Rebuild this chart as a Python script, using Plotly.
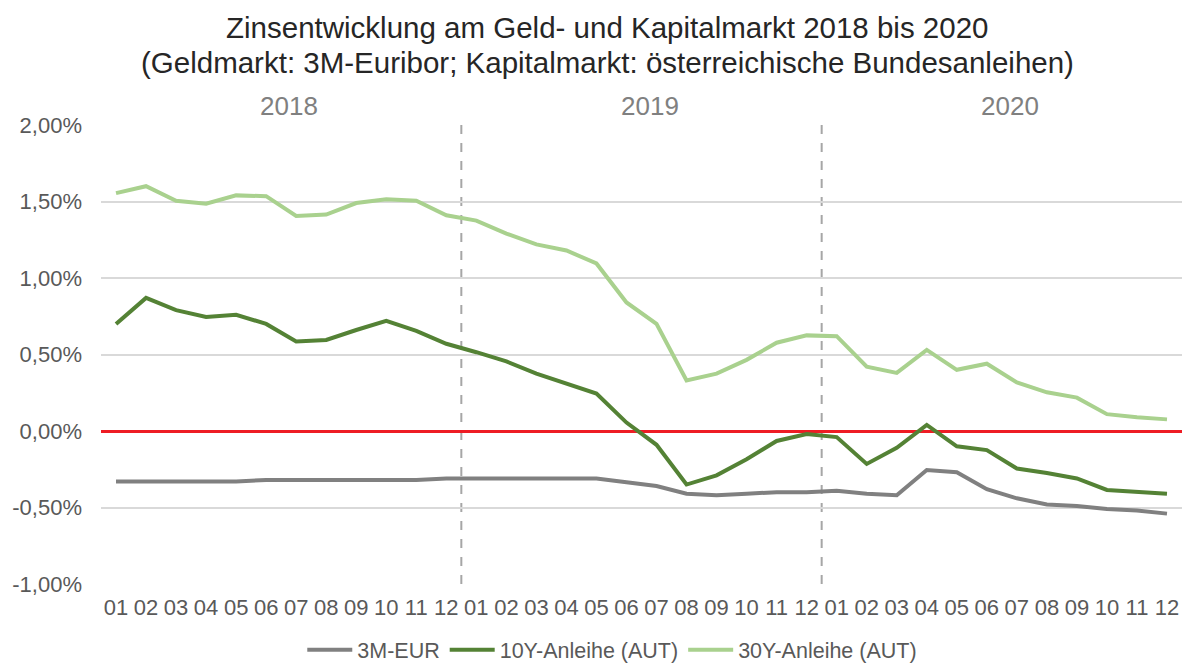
import plotly.graph_objects as go

months = ["01","02","03","04","05","06","07","08","09","10","11","12"]
years = ["2018", "2019", "2020"]
x_labels = months * 3

eur_3m = [-0.33,-0.33,-0.33,-0.33,-0.33,-0.32,-0.32,-0.32,-0.32,-0.32,-0.32,-0.31,
          -0.31,-0.31,-0.31,-0.31,-0.31,-0.335,-0.36,-0.41,-0.42,-0.41,-0.40,-0.40,
          -0.39,-0.41,-0.42,-0.255,-0.27,-0.38,-0.44,-0.48,-0.49,-0.51,-0.52,-0.54]
aut_10y = [0.70,0.87,0.79,0.745,0.76,0.70,0.585,0.595,0.66,0.72,0.655,0.57,
           0.515,0.455,0.375,0.31,0.245,0.055,-0.09,-0.35,-0.29,-0.185,-0.065,-0.02,
           -0.04,-0.215,-0.11,0.04,-0.10,-0.125,-0.245,-0.275,-0.31,-0.385,-0.40,-0.41]
aut_30y = [1.555,1.60,1.505,1.485,1.54,1.535,1.405,1.415,1.49,1.515,1.505,1.41,
           1.375,1.29,1.22,1.18,1.095,0.84,0.70,0.33,0.375,0.465,0.577,0.625,
           0.62,0.42,0.38,0.53,0.40,0.44,0.318,0.253,0.218,0.11,0.09,0.076]

y_ticks = [-1.0, -0.5, 0.0, 0.5, 1.0, 1.5, 2.0]
y_ticktext = ["-1,00%", "-0,50%", "0,00%", "0,50%", "1,00%", "1,50%", "2,00%"]

title_lines = ["Zinsentwicklung am Geld- und Kapitalmarkt 2018 bis 2020",
               "(Geldmarkt: 3M-Euribor; Kapitalmarkt: österreichische Bundesanleihen)"]

series = [
    ("3M-EUR", eur_3m, "#808080"),
    ("10Y-Anleihe (AUT)", aut_10y, "#548235"),
    ("30Y-Anleihe (AUT)", aut_30y, "#a9d18e"),
]

FONT = "Liberation Sans, Arial, sans-serif"
idx = list(range(len(x_labels)))

fig = go.Figure()
for name, vals, col in series:
    fig.add_trace(go.Scatter(x=idx, y=vals, name=name, mode="lines",
                             line=dict(color=col, width=4)))

# year separators
for k in range(1, len(years)):
    xb = k * 12 - 0.5
    fig.add_shape(type="line", xref="x", yref="paper", x0=xb, x1=xb, y0=0, y1=1,
                  line=dict(color="#a6a6a6", width=2, dash="dash"), layer="between")
# year labels
for k, yr in enumerate(years):
    fig.add_annotation(x=k * 12 + 5.5, y=1, xref="x", yref="paper",
                       yanchor="bottom", yshift=2, xshift=8, text=yr, showarrow=False,
                       font=dict(family=FONT, size=26, color="#808080"))

# title (two lines)
PLOT_H = 663 - 125 - 79
for line_txt, ypx in zip(title_lines, [28, 62]):
    fig.add_annotation(x=0.5, xref="paper", y=(663 - 79 - ypx) / PLOT_H, yref="paper",
                       xanchor="center", yanchor="middle", text=line_txt,
                       showarrow=False, xshift=-34,
                       font=dict(family=FONT, size=29.5, color="#262626"))

fig.update_layout(
    width=1182, height=663,
    paper_bgcolor="white", plot_bgcolor="white",
    margin=dict(l=101, r=0, t=125, b=79),
    font=dict(family=FONT, color="#595959", size=22),
    showlegend=True,
    legend=dict(orientation="h", xref="container", yref="container",
                x=0.518, xanchor="center", y=0.02, yanchor="middle",
                font=dict(family=FONT, size=21.5, color="#595959"),
                itemwidth=45, tracegroupgap=0),
    hovermode=False,
)
fig.update_xaxes(range=[-0.5, len(x_labels) - 0.5], tickmode="array",
                 tickvals=idx, ticktext=x_labels, showgrid=False, zeroline=False,
                 showline=False, ticks="", ticklabelstandoff=8,
                 tickfont=dict(size=22, color="#595959"))
fig.update_yaxes(range=[-1, 2], tickmode="array", tickvals=y_ticks,
                 ticktext=y_ticktext, showgrid=True, gridcolor="#d9d9d9",
                 gridwidth=1.5, zeroline=True, zerolinecolor="#ee1c24",
                 zerolinewidth=2.5, showline=False, ticks="",
                 ticklabelstandoff=18, tickfont=dict(size=22, color="#595959"))

fig.write_html("out.html", config={"displayModeBar": False},
               post_script="document.body.style.margin='0';document.body.style.overflow='hidden';")
